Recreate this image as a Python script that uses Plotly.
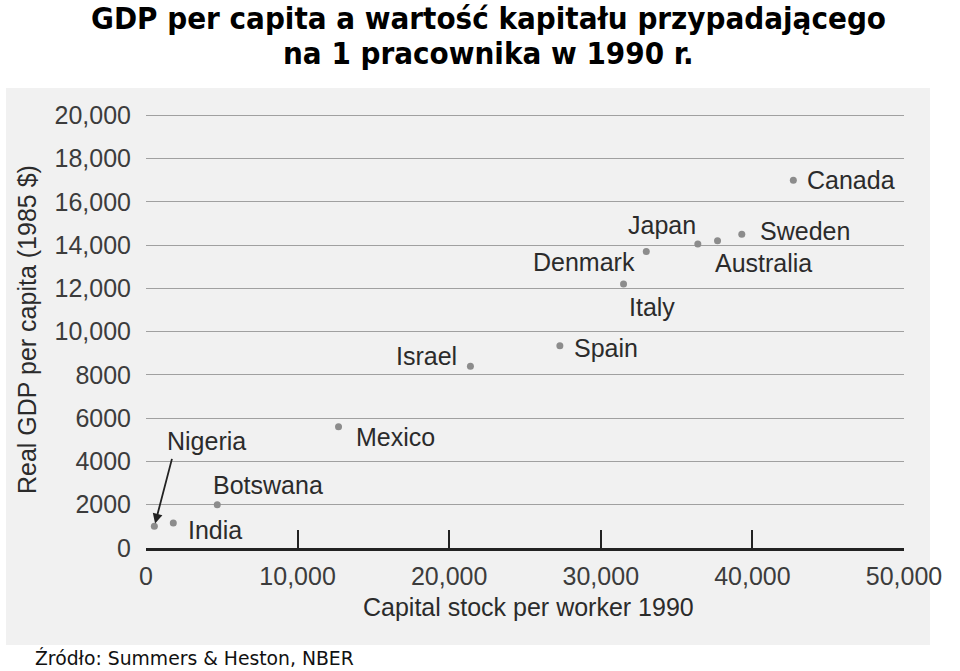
import plotly.graph_objects as go

# ---- data ----
countries = ["Nigeria", "India", "Botswana", "Mexico", "Israel", "Spain", "Italy",
             "Denmark", "Japan", "Australia", "Sweden", "Canada"]
capital = [550, 1800, 4700, 12700, 21400, 27300, 31500, 33000, 36400, 37700, 39300, 42700]
gdp = [1000, 1150, 2000, 5600, 8400, 9350, 12200, 13700, 14050, 14200, 14500, 17000]

y_tickvals = [0, 2000, 4000, 6000, 8000, 10000, 12000, 14000, 16000, 18000, 20000]
y_ticktext = ["0", "2000", "4000", "6000", "8000", "10,000", "12,000", "14,000",
              "16,000", "18,000", "20,000"]
x_tickvals = [0, 10000, 20000, 30000, 40000, 50000]
x_ticktext = ["0", "10,000", "20,000", "30,000", "40,000", "50,000"]

title_lines = ["GDP per capita a wartość kapitału przypadającego",
               "na 1 pracownika w 1990 r."]
x_title = "Capital stock per worker 1990"
y_title = "Real GDP per capita (1985 $)"
source = "Źródło: Summers & Heston, NBER"

# label placement (pixel offsets) per country
label_pos = {
    "Canada": ("left", 12, 0),
    "Sweden": ("left", 16, 3),
    "Japan": ("right", 0, 19),
    "Australia": ("left", -5, -22),
    "Denmark": ("right", -9, -10),
    "Italy": ("left", 3, -23),
    "Spain": ("left", 12, -2),
    "Israel": ("right", -11, 10),
    "Mexico": ("left", 15, -10),
    "Botswana": ("left", -6, 20),
    "India": ("left", 13, -7),
    "Nigeria": ("left", 11, 85),
}

W, H = 960, 671
L, R, T, B = 146, 56, 111, 123
pw, ph = W - L - R, H - T - B


def px2paper_x(px):
    return (px - L) / pw


def px2paper_y(py):
    return (H - B - py) / ph


LABEL_FONT = dict(family="Liberation Sans, Arial, sans-serif", size=25, color="#2b2b2b")
TICK_FONT = dict(family="Liberation Sans, Arial, sans-serif", size=25, color="#3c3c3c")
TITLE_FONT = dict(family="Liberation Sans Narrow, DejaVu Sans Condensed, sans-serif",
                  size=31, color="#000000")

fig = go.Figure()
fig.add_trace(go.Scatter(
    x=capital, y=gdp, mode="markers",
    marker=dict(size=7, color="#8c8c8c"),
    hoverinfo="skip", showlegend=False,
))

annotations = []
for c, xv, yv in zip(countries, capital, gdp):
    anchor, xs, ys = label_pos[c]
    annotations.append(dict(x=xv, y=yv, xref="x", yref="y", text=c, showarrow=False,
                            xanchor=anchor, yanchor="middle", xshift=xs, yshift=ys,
                            font=LABEL_FONT))

# Nigeria arrow
ni = countries.index("Nigeria")
annotations.append(dict(x=capital[ni], y=gdp[ni], xref="x", yref="y", text="",
                        showarrow=True, ax=18, ay=-69, arrowhead=2, arrowsize=1.1,
                        arrowwidth=1.8, arrowcolor="#222222", standoff=3))

# titles
annotations.append(dict(x=px2paper_x(488), y=px2paper_y(18), xref="paper", yref="paper",
                        text="<b>" + title_lines[0] + "</b>", showarrow=False,
                        xanchor="center", yanchor="middle", font=TITLE_FONT))
annotations.append(dict(x=px2paper_x(488), y=px2paper_y(53), xref="paper", yref="paper",
                        text="<b>" + title_lines[1] + "</b>", showarrow=False,
                        xanchor="center", yanchor="middle", font=TITLE_FONT))
annotations.append(dict(x=px2paper_x(528), y=px2paper_y(607), xref="paper", yref="paper",
                        text=x_title, showarrow=False, xanchor="center", yanchor="middle",
                        font=LABEL_FONT))
annotations.append(dict(x=px2paper_x(27), y=px2paper_y(330), xref="paper", yref="paper",
                        text=y_title, showarrow=False, textangle=-90,
                        xanchor="center", yanchor="middle", font=LABEL_FONT))
annotations.append(dict(x=px2paper_x(33), y=px2paper_y(658), xref="paper", yref="paper",
                        text=source, showarrow=False, xanchor="left", yanchor="middle",
                        font=dict(family="DejaVu Sans, Verdana, sans-serif", size=18.8,
                                  color="#111111")))

shapes = [dict(type="rect", xref="paper", yref="paper", layer="below",
               x0=px2paper_x(6), x1=px2paper_x(930), y0=px2paper_y(645), y1=px2paper_y(88),
               fillcolor="#f1f1f1", line=dict(width=0))]

fig.update_layout(
    width=W, height=H,
    margin=dict(l=L, r=R, t=T, b=B),
    paper_bgcolor="white", plot_bgcolor="rgba(0,0,0,0)",
    annotations=annotations, shapes=shapes,
    xaxis=dict(range=[0, 50000], tickvals=x_tickvals, ticktext=x_ticktext,
               ticks="inside", ticklen=18, tickwidth=2, tickcolor="#222222",
               showline=True, linecolor="#222222", linewidth=2.5,
               showgrid=False, zeroline=False, tickfont=TICK_FONT,
               ticklabelstandoff=4, fixedrange=True),
    yaxis=dict(range=[0, 20200], tickvals=y_tickvals, ticktext=y_ticktext,
               showline=False, ticks="", showgrid=True, gridcolor="#a0a0a0",
               gridwidth=1.2, zeroline=False, tickfont=TICK_FONT,
               ticklabelstandoff=14, fixedrange=True),
)

fig.write_html("out.html")
